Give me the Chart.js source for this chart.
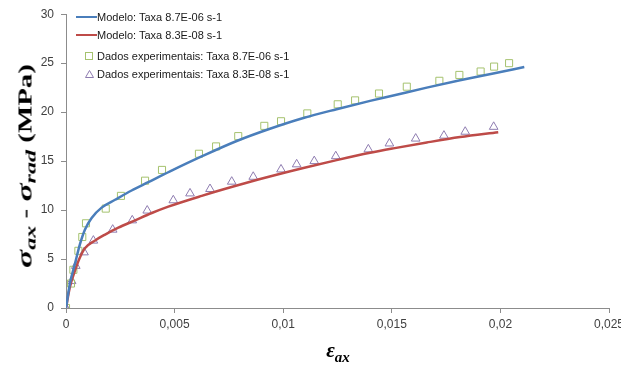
<!DOCTYPE html>
<html>
<head>
<meta charset="utf-8">
<script src="https://cdn.jsdelivr.net/npm/chart.js@4.4.0/dist/chart.umd.min.js"></script>
<style>
  body { margin: 0; background: #fff; }
  #wrap { position: relative; width: 621px; height: 366px; }
  #chart { position: absolute; left: 0; top: 0; }
  .ytitle {
    position: absolute; left: 25px; top: 166px;
    transform: translate(-50%, -50%) rotate(-90deg);
    white-space: nowrap;
    font-family: "Liberation Serif", "DejaVu Serif", serif;
    font-weight: bold; font-size: 18px; color: #000; line-height: 1;
  }
  .ytitle .sym { font-size: 21px; }
  .ytitle sub { font-size: 15px; vertical-align: -4px; }
  .xtitle {
    position: absolute; left: 338px; top: 350px;
    transform: translate(-50%, -50%);
    white-space: nowrap;
    font-family: "Liberation Serif", "DejaVu Serif", serif;
    font-weight: bold; font-size: 21px; color: #000;
  }
  .xtitle sub { font-size: 15px; vertical-align: -5px; }
  .sym { font-style: italic; }
  sub { font-style: italic; line-height: 0; }
  .legend { position: absolute; left: 0; top: 0; font-family: "Liberation Sans", Arial, sans-serif; font-size: 11px; color: #1a1a1a; }
  .row { position: absolute; left: 97px; white-space: nowrap; transform: translateY(-50%); }
  .ln { position: absolute; left: 76px; width: 21px; height: 2px; transform: translateY(-50%); }
  .mk { position: absolute; left: 85px; transform: translateY(-50%); }
</style>
</head>
<body>
<div id="wrap">
  <canvas id="chart" width="621" height="366"></canvas>
  <div class="ytitle" id="ytitle"><span class="sym">σ</span><sub>ax</sub> - <span class="sym">σ</span><sub>rad</sub> (MPa)</div>
  <div class="xtitle"><span class="sym">ε</span><sub>ax</sub></div>
  <div class="legend" id="legend"></div>
</div>
<script>
// experimental data, rate 8.7E-06 s-1
const expFastX = [0, 0.00023, 0.00034, 0.00057, 0.00075, 0.00092, 0.00183, 0.00253, 0.00364, 0.00442,
  0.00612, 0.00691, 0.00793, 0.00913, 0.0099, 0.01111, 0.01251, 0.01331, 0.01441, 0.01569,
  0.01719, 0.01811, 0.01909, 0.01971, 0.0204];
const expFastY = [0, 2.5, 3.9, 5.84, 7.25, 8.65, 10.15, 11.45, 13.0, 14.1,
  15.75, 16.5, 17.55, 18.6, 19.07, 19.87, 20.8, 21.2, 21.9, 22.6,
  23.2, 23.8, 24.15, 24.65, 25.0];

// experimental data, rate 8.3E-08 s-1
const expSlowX = [0, 0.00026, 0.00045, 0.00083, 0.00126, 0.00215, 0.00305, 0.00374, 0.00494, 0.00571,
  0.00663, 0.00763, 0.00862, 0.0099, 0.01062, 0.01143, 0.01242, 0.01392, 0.01489, 0.0161,
  0.0174, 0.01838, 0.01969];
const expSlowY = [0, 2.75, 4.3, 5.68, 6.88, 8.0, 8.95, 9.95, 11.0, 11.7,
  12.15, 12.9, 13.4, 14.15, 14.67, 15.0, 15.5, 16.2, 16.8, 17.3,
  17.6, 18.0, 18.5];

// model curves
const modelFastX = [0, 0.00018, 0.00041, 0.00064, 0.00087, 0.00118, 0.00164, 0.00226, 0.00302, 0.00379,
  0.00479, 0.00632, 0.00786, 0.00939, 0.01093, 0.01246, 0.014, 0.01507, 0.01661, 0.01814, 0.01967, 0.0211];
const modelFastY = [0, 2.5, 4.5, 6.5, 8.0, 9.2, 10.25, 11.05, 12.0, 12.85,
  13.95, 15.55, 17.05, 18.3, 19.4, 20.3, 21.15, 21.7, 22.5, 23.25, 23.95, 24.6];

const modelSlowX = [0, 0.00018, 0.00041, 0.00064, 0.00087, 0.00134, 0.0018, 0.00241, 0.00318, 0.00395,
  0.00471, 0.00625, 0.00778, 0.00916, 0.01093, 0.01246, 0.014, 0.01507, 0.01661, 0.01814, 0.0199];
const modelSlowY = [0, 2.15, 3.8, 5.15, 6.1, 6.9, 7.5, 8.2, 8.95, 9.7,
  10.35, 11.45, 12.45, 13.3, 14.3, 15.1, 15.85, 16.3, 16.9, 17.45, 17.95];

const xTicks = [0, 0.005, 0.01, 0.015, 0.02, 0.025];
const yTicks = [0, 5, 10, 15, 20, 25, 30];

const labels = [
  'Modelo: Taxa 8.7E-06 s-1',
  'Modelo: Taxa 8.3E-08 s-1',
  'Dados experimentais: Taxa 8.7E-06 s-1',
  'Dados experimentais: Taxa 8.3E-08 s-1'
];

const BLUE = '#4A7EBB', RED = '#BE4B48', GREEN = '#A5C26E', PURPLE = '#8E7CB0';

function pts(xs, ys) { return xs.map((x, i) => ({ x: x, y: ys[i] })); }

function fmtX(v) {
  if (v === 0) return '0';
  return parseFloat(v.toFixed(4)).toString().replace('.', ',');
}

const ctx = document.getElementById('chart').getContext('2d');
new Chart(ctx, {
  type: 'scatter',
  data: {
    datasets: [
      { label: labels[0], data: pts(modelFastX, modelFastY), showLine: true, borderColor: BLUE, borderWidth: 2.5,
        pointRadius: 0, cubicInterpolationMode: 'monotone', fill: false },
      { label: labels[1], data: pts(modelSlowX, modelSlowY), showLine: true, borderColor: RED, borderWidth: 2.5,
        pointRadius: 0, cubicInterpolationMode: 'monotone', fill: false },
      { label: labels[2], data: pts(expFastX, expFastY), pointStyle: 'rect', pointRadius: 5,
        borderColor: GREEN, backgroundColor: 'rgba(0,0,0,0)', borderWidth: 1 },
      { label: labels[3], data: pts(expSlowX, expSlowY), pointStyle: 'triangle', pointRadius: 5,
        borderColor: PURPLE, backgroundColor: 'rgba(0,0,0,0)', borderWidth: 1 }
    ]
  },
  options: {
    responsive: false,
    animation: false,
    layout: { padding: { left: 0, top: 10, right: 12, bottom: 0 } },
    plugins: { legend: { display: false }, tooltip: { enabled: false } },
    scales: {
      x: {
        type: 'linear', min: 0, max: 0.025,
        afterBuildTicks: s => { s.ticks = xTicks.map(v => ({ value: v })); },
        afterFit: s => { s.height = 58; s.paddingLeft = 0; s.paddingRight = 0; },
        grid: { drawOnChartArea: false, tickLength: 5, color: '#8c8c8c' },
        border: { color: '#8c8c8c' },
        ticks: { callback: v => fmtX(v), padding: 4, color: '#404040', maxRotation: 0,
          font: { family: 'Liberation Sans', size: 12 } }
      },
      y: {
        type: 'linear', min: 0, max: 30,
        afterBuildTicks: s => { s.ticks = yTicks.map(v => ({ value: v })); },
        afterFit: s => { s.width = 66; },
        grid: { drawOnChartArea: false, tickLength: 5, color: '#8c8c8c' },
        border: { color: '#8c8c8c' },
        ticks: { padding: 7, color: '#404040', font: { family: 'Liberation Sans', size: 12 } }
      }
    }
  }
});

// stretch the y title along its length, like the original figure
const yt = document.getElementById('ytitle');
const k = 204 / yt.offsetWidth;
yt.style.transform = 'translate(-50%, -50%) rotate(-90deg) scaleX(' + k + ')';

// legend inside the plot area, top left
const legend = document.getElementById('legend');
const rowY = [17, 35, 56, 74];
labels.forEach((t, i) => {
  const row = document.createElement('div');
  row.className = 'row';
  row.style.top = rowY[i] + 'px';
  row.textContent = t;
  legend.appendChild(row);
  if (i < 2) {
    const ln = document.createElement('div');
    ln.className = 'ln';
    ln.style.top = rowY[i] + 'px';
    ln.style.background = i === 0 ? BLUE : RED;
    legend.appendChild(ln);
  } else {
    const mk = document.createElement('div');
    mk.className = 'mk';
    mk.style.top = rowY[i] + 'px';
    mk.innerHTML = i === 2
      ? '<svg width="8" height="8"><rect x="0.5" y="0.5" width="7" height="7" fill="none" stroke="' + GREEN + '"/></svg>'
      : '<svg width="9" height="8"><polygon points="4.5,0.5 8.5,7.5 0.5,7.5" fill="none" stroke="' + PURPLE + '"/></svg>';
    legend.appendChild(mk);
  }
});
</script>
</body>
</html>
